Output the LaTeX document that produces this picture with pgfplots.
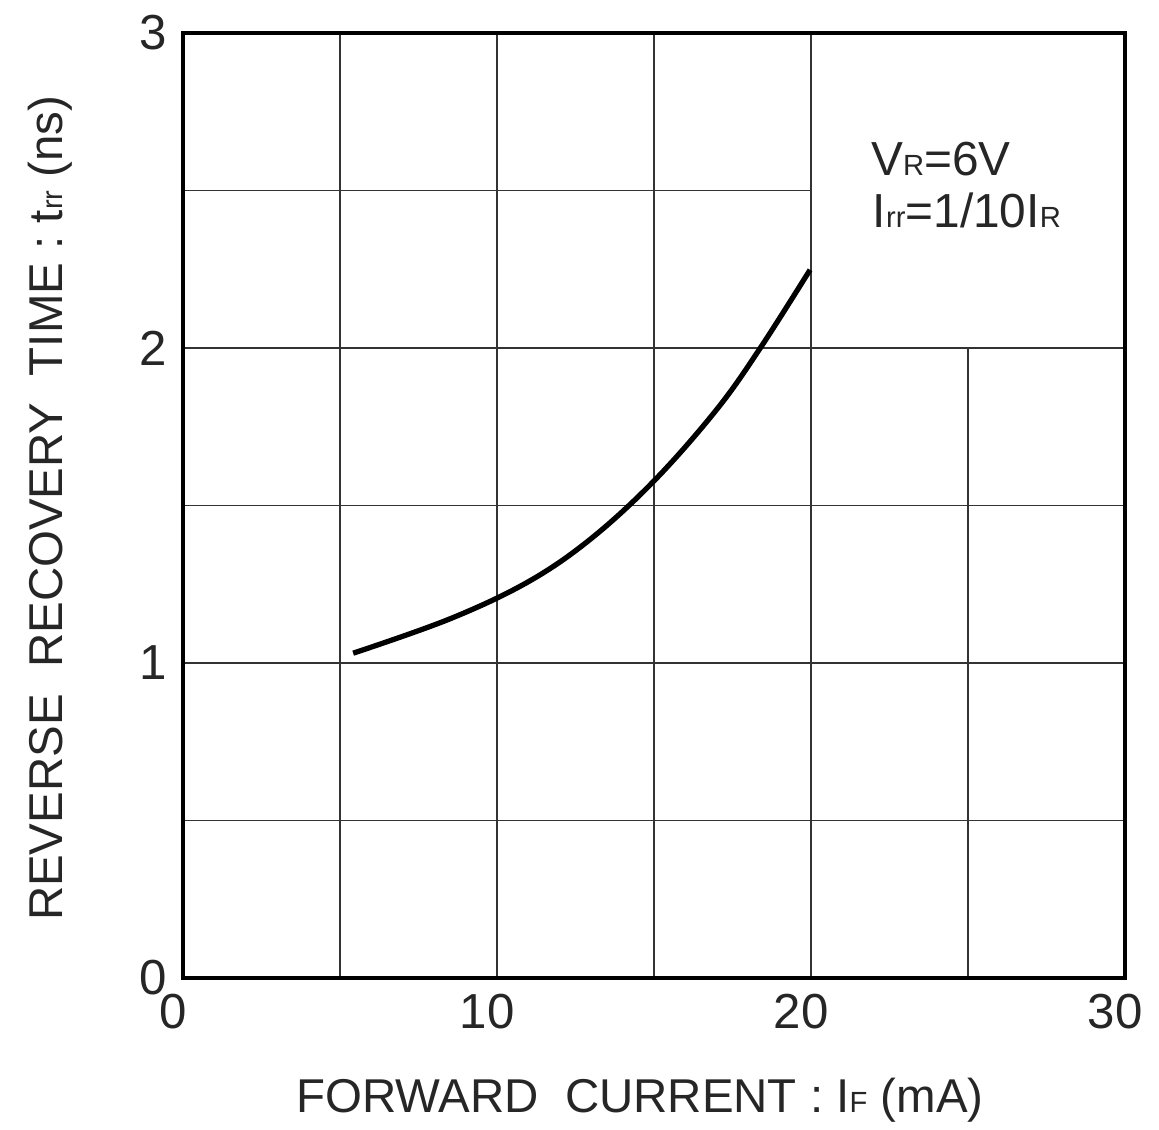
\documentclass[border=0pt]{standalone}
\usepackage{pgfplots}
\pgfplotsset{compat=1.18}
\usepackage{fontspec}
\setmainfont{Liberation Sans}
\newcommand{\sub}[1]{{\fontsize{8.3pt}{10pt}\selectfont #1}}
\begin{document}
\begin{tikzpicture}
\begin{axis}[
  scale only axis,
  width=94.2mm, height=94.5mm,
  xmin=0, xmax=30, ymin=0, ymax=3,
  xtick={0,10,20,30}, ytick={0,1,2,3},
  major tick length=0pt,
  /pgf/number format/assume math mode=true,
  tick label style={font=\fontsize{14pt}{16pt}\selectfont, text=black!85},
  xticklabel style={xshift=-2.8pt, yshift=-1pt},
  yticklabel style={xshift=-1pt},
  axis line style={line width=1.4pt, black},
  xlabel={FORWARD\ \ CURRENT : I\sub{F} (mA)},
  ylabel={REVERSE\ \ RECOVERY\ \ TIME : t\sub{rr} (ns)},
  label style={font=\fontsize{13.5pt}{16pt}\selectfont, text=black!85},
  xlabel style={at={(axis description cs:0.485,-0.129)}, anchor=center},
  ylabel style={at={(axis description cs:-0.141,0.497)}, anchor=center, rotate=0},
  axis on top,
]
% grid
\begin{scope}[line width=0.55pt, black!80]
\draw (axis cs:5,0) -- (axis cs:5,3);
\draw (axis cs:10,0) -- (axis cs:10,3);
\draw (axis cs:15,0) -- (axis cs:15,3);
\draw (axis cs:20,0) -- (axis cs:20,3);
\draw (axis cs:25,0) -- (axis cs:25,2);
\draw (axis cs:0,0.5) -- (axis cs:30,0.5);
\draw (axis cs:0,1) -- (axis cs:30,1);
\draw (axis cs:0,1.5) -- (axis cs:30,1.5);
\draw (axis cs:0,2) -- (axis cs:30,2);
\draw (axis cs:0,2.5) -- (axis cs:20,2.5);
\end{scope}
\addplot[black, line width=1.5pt, smooth, tension=0.6] coordinates {
(5.42,1.031) (8.50,1.140) (11.0,1.258) (13.0,1.395) (15.03,1.581)
(17.0,1.805) (18.38,1.999) (19.97,2.248)
};
\node[anchor=base west, font=\fontsize{13.6pt}{16pt}\selectfont, text=black!85, inner sep=0pt] at (axis cs:21.9,2.549) {V\sub{R}=6V};
\node[anchor=base west, font=\fontsize{13.6pt}{16pt}\selectfont, text=black!85, inner sep=0pt] at (axis cs:21.95,2.384) {I\sub{rr}=1/10I\sub{R}};
\coordinate (bl) at (rel axis cs:0,0);
\end{axis}
\pgfresetboundingbox
\path (bl) ++(-18.3mm,-15.2mm) rectangle ++(115.9mm,113mm);
\end{tikzpicture}
\end{document}
